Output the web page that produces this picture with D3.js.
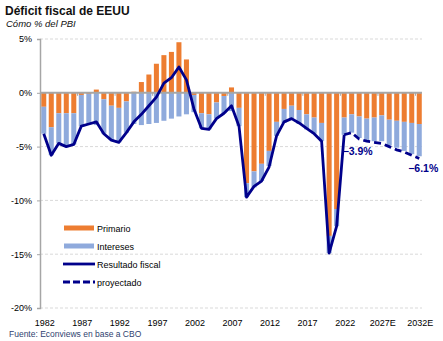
<!DOCTYPE html>
<html lang="es">
<head>
  <meta charset="UTF-8" />
  <title>Déficit fiscal de EEUU</title>
  <script src="https://d3js.org/d3.v7.min.js"></script>
  <style>
    body { margin: 0; background: #fff; font-family: "Liberation Sans", Arial, sans-serif; }
    svg text { fill: #000; }
    .titulo { font-size: 12px; font-weight: bold; fill: #111; }
    .subtitulo { font-size: 9.5px; font-style: italic; fill: #111; }
    .eje text { font-size: 9px; }
    .fuente { font-size: 8.5px; fill: #2f3f6f; }
    .leyenda text { font-size: 9px; }
    .etiqueta { font-size: 10.5px; font-weight: bold; fill: #00008b; }
  </style>
</head>
<body>
  <svg id="grafico" width="443" height="341"></svg>

  <script>
    // Años: 1982-2021 observados, 2022-2032 proyección CBO
    const anios = d3.range(1982, 2033);

    // Resultado primario, % del PBI
    const primario = [
      -1.3, -3.2, -1.9, -1.9, -1.9, -0.2, -0.1, 0.3, -0.6, -1.2,
      -1.4, -0.8, 0.1, 1.0, 1.7, 2.7, 3.5, 3.8, 4.7, 3.1,
      -0.2, -1.9, -2.0, -0.9, -0.3, 0.5, -1.4, -8.4, -7.3, -6.6,
      -5.4, -2.7, -1.5, -1.2, -1.6, -2.0, -2.3, -2.8, -13.3, -10.8,
      -2.3, -2.0, -2.2, -2.4, -2.3, -2.1, -2.5, -2.6, -2.7, -2.8, -2.9
    ];

    // Intereses netos, % del PBI (con signo)
    const intereses = [
      -2.5, -2.6, -2.8, -3.1, -2.9, -2.9, -2.8, -3.0, -3.2, -3.2,
      -3.2, -2.9, -2.9, -3.0, -2.9, -2.8, -2.6, -2.4, -2.2, -2.0,
      -1.6, -1.4, -1.4, -1.5, -1.6, -1.7, -1.7, -1.3, -1.5, -1.6,
      -1.4, -1.3, -1.3, -1.2, -1.3, -1.4, -1.5, -1.7, -1.6, -1.6,
      -1.6, -1.7, -2.0, -2.0, -2.2, -2.4, -2.4, -2.5, -2.7, -2.9, -3.0
    ];

    // Resultado fiscal 1982-2022
    const resultado = [
      -3.8, -5.8, -4.7, -5.0, -4.8, -3.1, -2.9, -2.7, -3.8, -4.4,
      -4.6, -3.7, -2.7, -2.0, -1.2, -0.4, 0.9, 1.4, 2.4, 1.2,
      -1.5, -3.3, -3.4, -2.4, -1.9, -1.2, -3.1, -9.7, -8.7, -8.2,
      -6.9, -4.0, -2.7, -2.4, -2.8, -3.3, -3.8, -4.5, -14.9, -12.4,
      -3.9
    ];

    // Resultado fiscal proyectado 2022-2032
    const aniosProy = d3.range(2022, 2033);
    const proyectado = [-3.9, -3.7, -4.3, -4.5, -4.6, -4.7, -5.0, -5.3, -5.5, -5.8, -6.1];

    const yTicks = [5, 0, -5, -10, -15, -20];
    const xTicks = [1982, 1987, 1992, 1997, 2002, 2007, 2012, 2017, 2022, 2027, 2032];
    const xTickLabels = ["1982", "1987", "1992", "1997", "2002", "2007", "2012", "2017", "2022", "2027E", "2032E"];

    const colPrimario = "#ed7d31";
    const colIntereses = "#8faadc";
    const colLinea = "#00008b";

    const svg = d3.select("#grafico");

    const x = d3.scaleBand()
      .domain(anios)
      .range([40, 423])
      .paddingInner(0.33)
      .paddingOuter(0.165);

    const y = d3.scaleLinear().domain([-20, 5]).range([308, 39]);

    // titulos
    svg.append("text").attr("class", "titulo").attr("x", 5).attr("y", 15).text("Déficit fiscal de EEUU");
    svg.append("text").attr("class", "subtitulo").attr("x", 6).attr("y", 27).text("Cómo % del PBI");

    // grilla punteada
    svg.append("g")
      .selectAll("line")
      .data(yTicks.filter(d => d !== 0))
      .join("line")
      .attr("x1", 40).attr("x2", 422)
      .attr("y1", d => y(d)).attr("y2", d => y(d))
      .attr("stroke", "#d9d9d9")
      .attr("stroke-dasharray", "3,2");

    // barras apiladas (primario primero, intereses después)
    const filas = anios.map((a, i) => ({ anio: a, primario: primario[i], intereses: intereses[i] }));
    const series = d3.stack()
      .keys(["primario", "intereses"])
      .offset(d3.stackOffsetDiverging)(filas);

    svg.append("g")
      .selectAll("g")
      .data(series)
      .join("g")
      .attr("fill", d => d.key === "primario" ? colPrimario : colIntereses)
      .selectAll("rect")
      .data(d => d)
      .join("rect")
      .attr("x", d => x(d.data.anio))
      .attr("width", x.bandwidth())
      .attr("y", d => y(Math.max(d[0], d[1])))
      .attr("height", d => Math.abs(y(d[0]) - y(d[1])));

    // eje Y
    const ejeY = d3.axisLeft(y).tickValues(yTicks).tickSize(3).tickPadding(5).tickFormat(d => d + "%");
    const gy = svg.append("g").attr("class", "eje").attr("transform", "translate(40,0)").call(ejeY);
    gy.select(".domain").attr("stroke", "#a6a6a6").attr("stroke-width", 1.5);
    gy.selectAll(".tick line").attr("stroke", "#a6a6a6");
    gy.selectAll(".tick text").attr("font-family", "Liberation Sans, Arial, sans-serif").attr("font-size", 9.5);

    // línea del cero con marcas cada 5 años
    svg.append("line")
      .attr("x1", 40).attr("x2", 422)
      .attr("y1", y(0)).attr("y2", y(0))
      .attr("stroke", "#a6a6a6").attr("stroke-width", 2);

    const paso = x.step();
    svg.append("g")
      .selectAll("line")
      .data(xTicks.slice(1))
      .join("line")
      .attr("x1", d => x(d) - (paso - x.bandwidth()) / 2)
      .attr("x2", d => x(d) - (paso - x.bandwidth()) / 2)
      .attr("y1", y(0)).attr("y2", y(0) + 3)
      .attr("stroke", "#a6a6a6");

    // etiquetas del eje X
    svg.append("g").attr("class", "eje")
      .selectAll("text")
      .data(xTicks)
      .join("text")
      .attr("x", d => x(d) + x.bandwidth() / 2 + 1)
      .attr("y", 326)
      .attr("text-anchor", "middle")
      .attr("font-size", 9)
      .text((d, i) => xTickLabels[i]);

    // resultado fiscal
    const linea = d3.line().x(d => x(d[0]) + x.bandwidth() / 2).y(d => y(d[1]));

    svg.append("path")
      .datum(resultado.map((v, i) => [anios[i], v]))
      .attr("d", linea)
      .attr("fill", "none")
      .attr("stroke", colLinea)
      .attr("stroke-width", 2.8)
      .attr("stroke-linejoin", "round");

    svg.append("path")
      .datum(proyectado.map((v, i) => [aniosProy[i], v]))
      .attr("d", linea)
      .attr("fill", "none")
      .attr("stroke", colLinea)
      .attr("stroke-width", 2.8)
      .attr("stroke-dasharray", "7,4");

    // valores destacados
    const vIni = proyectado[0], vFin = proyectado[proyectado.length - 1];
    svg.append("text").attr("class", "etiqueta")
      .attr("x", x(2022) + 1).attr("y", y(vIni) + 20)
      .text(d3.format(".1f")(vIni) + "%");
    svg.append("text").attr("class", "etiqueta")
      .attr("x", x(2032) + x.bandwidth() / 2 + 4).attr("y", y(vFin) + 14)
      .attr("text-anchor", "middle")
      .text(d3.format(".1f")(vFin) + "%");

    // leyenda
    const items = [
      { nombre: "Primario", color: colPrimario, ancho: 5, guion: null },
      { nombre: "Intereses", color: colIntereses, ancho: 5, guion: null },
      { nombre: "Resultado fiscal", color: colLinea, ancho: 2.8, guion: null },
      { nombre: "proyectado", color: colLinea, ancho: 2.8, guion: "7,3" }
    ];
    const ley = svg.append("g").attr("class", "leyenda")
      .selectAll("g")
      .data(items)
      .join("g")
      .attr("transform", (d, i) => `translate(63,${228 + i * 18})`);
    ley.append("line")
      .attr("x1", d => d.ancho > 3 ? 1 : 0).attr("x2", d => d.ancho > 3 ? 31 : 32)
      .attr("stroke", d => d.color)
      .attr("stroke-width", d => d.ancho)
      .attr("stroke-dasharray", d => d.guion);
    ley.append("text")
      .attr("x", 34).attr("y", 3.5)
      .text(d => d.nombre);

    svg.append("text").attr("class", "fuente").attr("x", 9).attr("y", 337).text("Fuente: Econviews en base a CBO");
  </script>
</body>
</html>
